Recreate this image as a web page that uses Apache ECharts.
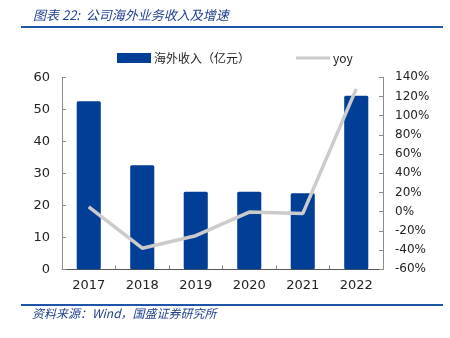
<!DOCTYPE html>
<html>
<head>
<meta charset="utf-8">
<script src="https://cdn.jsdelivr.net/npm/echarts@6/dist/echarts.min.js"></script>
<style>
  html, body { margin: 0; padding: 0; background: #fff; }
  #wrap { position: relative; width: 450px; height: 338px; }
  #chart { width: 450px; height: 338px; }
  .rule { position: absolute; left: 21px; width: 422px; height: 2px; background: #1d55a8; z-index: 5; }
</style>
</head>
<body>
<div id="wrap">
  <div id="chart"></div>
  <div class="rule" style="top:26px"></div>
  <div class="rule" style="top:304px"></div>
</div>
<script>
// Overseas revenue (100 million CNY) and year-over-year growth (%)
var years = ['2017', '2018', '2019', '2020', '2021', '2022'];
var revenue = [52.5, 32.5, 24.25, 24.25, 23.8, 54.25];
var yoy = [5, -38, -25, -0.4, -2, 128];
var leftTicks = [0, 10, 20, 30, 40, 50, 60];
var rightTicks = [-60, -40, -20, 0, 20, 40, 60, 80, 100, 120, 140];

var chart = echarts.init(document.getElementById('chart'));
var axisGray = '#8c8c8c';
var labelColor = '#222';
var labelFont = "'DejaVu Sans', 'Noto Sans', sans-serif";
var cjkFont = "'Noto Sans CJK SC', sans-serif";

chart.setOption({
  animation: false,
  backgroundColor: '#fff',
  title: {
    text: '图表 22:  公司海外业务收入及增速',
    left: 28, top: 4,
    textStyle: { fontSize: 13, fontStyle: 'italic', fontWeight: 'normal', color: '#1f3f8f', fontFamily: cjkFont }
  },
  graphic: {
    elements: [
      { type: 'text', left: 32, top: 307,
        style: { text: '资料来源：Wind，国盛证券研究所', fill: '#1f3f8f', font: "italic 12px 'Noto Sans CJK SC', sans-serif" } }
    ]
  },
  legend: {
    top: 47, left: 112,
    itemGap: 46,
    itemWidth: 34, itemHeight: 10,
    textStyle: { fontSize: 12, color: labelColor, fontFamily: cjkFont, padding: [0, 0, 0, -2] },
    data: [
      { name: '海外收入（亿元）', icon: 'rect' },
      { name: 'yoy', icon: 'path://M0,4 L34,4 L34,7 L0,7 Z' }
    ]
  },
  grid: { left: 62, right: 67, top: 77.3, bottom: 68.7 },
  xAxis: {
    type: 'category',
    data: years,
    axisLine: { lineStyle: { color: '#555', width: 1 } },
    axisTick: { show: true, inside: true, length: 4, lineStyle: { color: axisGray } },
    axisLabel: { color: labelColor, fontSize: 13, fontFamily: labelFont, margin: 10 }
  },
  yAxis: [
    {
      type: 'value', min: 0, max: 60, interval: 10,
      axisLine: { show: true, lineStyle: { color: axisGray } },
      axisTick: { show: true, inside: true, length: 4, lineStyle: { color: axisGray } },
      splitLine: { show: false },
      axisLabel: { color: labelColor, fontSize: 13, fontFamily: labelFont, margin: 12,
        formatter: function (v) { return leftTicks.indexOf(v) >= 0 ? String(v) : ''; } }
    },
    {
      type: 'value', min: -60, max: 140, interval: 20,
      axisLine: { show: true, lineStyle: { color: axisGray } },
      axisTick: { show: true, inside: true, length: 4, lineStyle: { color: axisGray } },
      splitLine: { show: false },
      axisLabel: { color: labelColor, fontSize: 12, fontFamily: labelFont, margin: 12,
        formatter: function (v) { return rightTicks.indexOf(v) >= 0 ? v + '%' : ''; } }
    }
  ],
  series: [
    {
      name: '海外收入（亿元）',
      type: 'bar',
      data: revenue,
      barWidth: '45%',
      itemStyle: { color: '#013f97', borderRadius: 1.5 },
      yAxisIndex: 0
    },
    {
      name: 'yoy',
      type: 'line',
      data: yoy,
      yAxisIndex: 1,
      symbol: 'none',
      lineStyle: { color: '#cbcbcb', width: 3.5 },
      itemStyle: { color: '#cbcbcb' }
    }
  ]
});
</script>
</body>
</html>
